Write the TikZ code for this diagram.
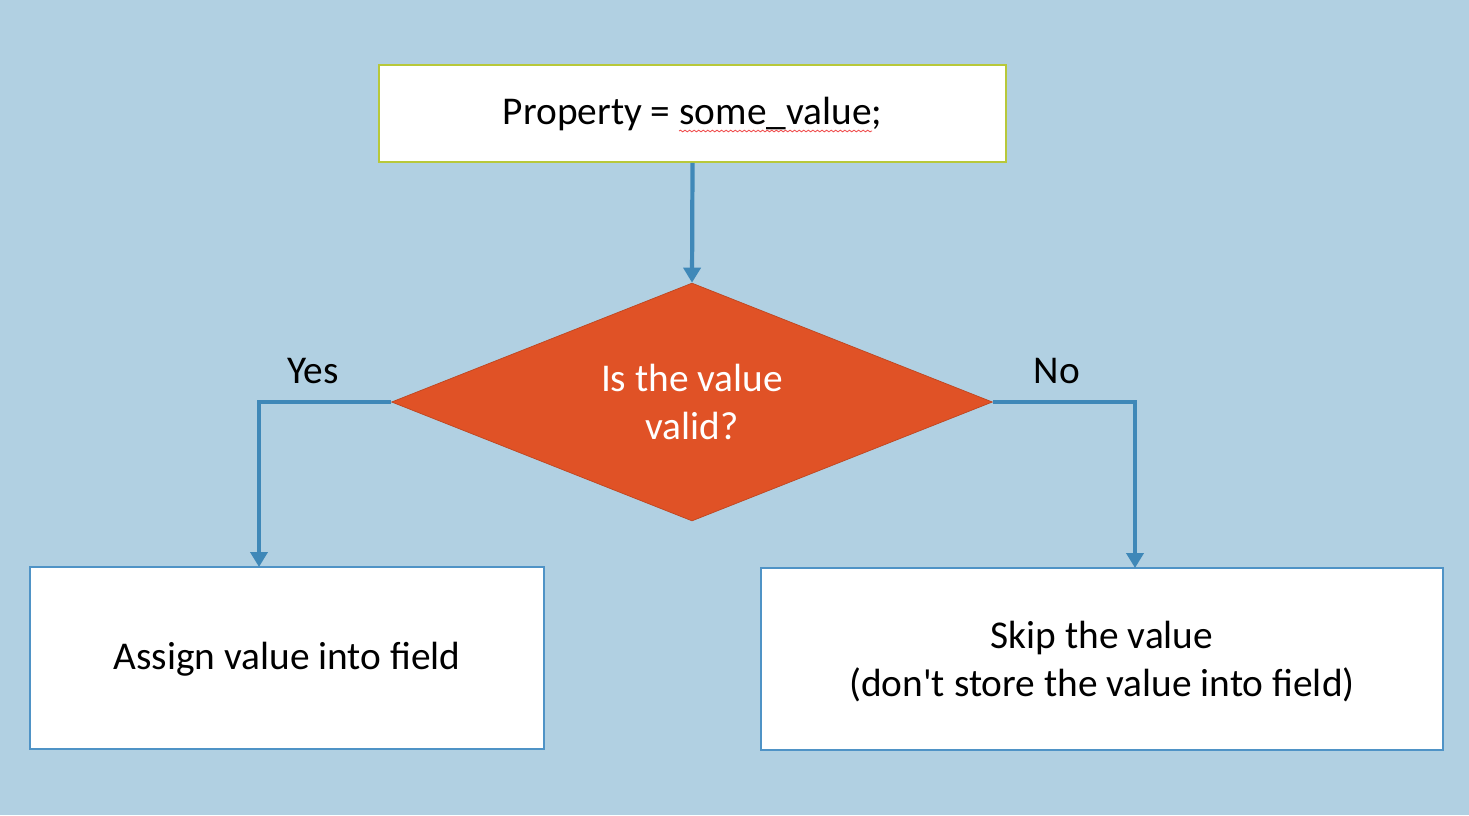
\documentclass[tikz,border=0pt]{standalone}
\usepackage{fontspec}
\setmainfont{Carlito}
\newfontfamily\plainfont{Carlito}
\usepackage{xcolor}
\usetikzlibrary{
    shapes.geometric,
    arrows.meta,
    positioning,
    calc,
    decorations.pathmorphing
}
\definecolor{canvas}{HTML}{B1D0E2}
\definecolor{connector}{HTML}{3F88B8}
\definecolor{decision}{HTML}{E05226}
\definecolor{startline}{HTML}{B8C83A}
\definecolor{boxline}{HTML}{4F93C6}
\definecolor{spell}{HTML}{F05050}
\tikzset{
    % Statement box style
    statement/.style={
        rectangle,
        align=center,
        font=\fontsize{22.4}{27}\selectfont,
        draw=#1,
        fill=white,
        line width=1.1pt,
        inner sep=0pt
    },
    % Decision style
    question/.style={
        diamond,
        shape aspect=2.5,
        align=center,
        font=\fontsize{22.4}{27}\selectfont,
        text=white,
        fill=decision,
        draw=decision!85!black,
        line width=0.4pt,
        inner sep=0pt,
        minimum width=12.02cm,
        minimum height=4.76cm
    },
    % Arrow style
    flow/.style={
        -{Triangle[length=3mm, width=3.4mm]},
        line width=2.4pt,
        color=connector
    },
    % Branch label style
    branch/.style={
        font=\fontsize{22.4}{27}\selectfont,
        text=black
    }
}
\begin{document}
\begin{tikzpicture}[x=0.02cm, y=-0.02cm]

    % Background
    \fill[canvas] (0,0) rectangle (1469,815);
    \useasboundingbox (0,0) rectangle (1469,815);

    % Assignment
    \node[statement=startline, minimum width=12.54cm, minimum height=1.94cm,
          text depth=0.1cm] (prop) at (692.5,113.5) {Property = some\_value;};
    \draw[spell, line width=0.5pt, decorate, decoration={snake, amplitude=0.45pt, segment length=2.6pt}]
        (679,131) -- (872,131);

    % Decision
    \node[question] (check) at (692,402) {Is the value\\valid?};

    % Outcomes
    \node[statement=boxline, minimum width=10.28cm, minimum height=3.64cm,
          text depth=0.1cm] (assign) at (287,658) {Assign value into field};
    \node[statement=boxline, minimum width=13.64cm, minimum height=3.64cm] (skip) at (1102,659) {};
    \node[font=\fontsize{22.4}{27}\selectfont, align=center] (skiptext) at ([yshift=-0.05cm]skip.center) {Skip the value\\(don{\plainfont '}t store the value into field)};

    % Drop points
    \coordinate (yesdrop) at (259,567);
    \coordinate (nodrop) at (1135,568);

    % Connections
    \draw[flow] (prop.south) -- (check.north);
    \draw[flow] (check.west) -| (yesdrop);
    \draw[flow] (check.east) -| (nodrop);

    % Labels
    \node[branch] (yes) at (313,371) {Yes};
    \node[branch] (no) at (1057,371) {No};

\end{tikzpicture}
\end{document}
